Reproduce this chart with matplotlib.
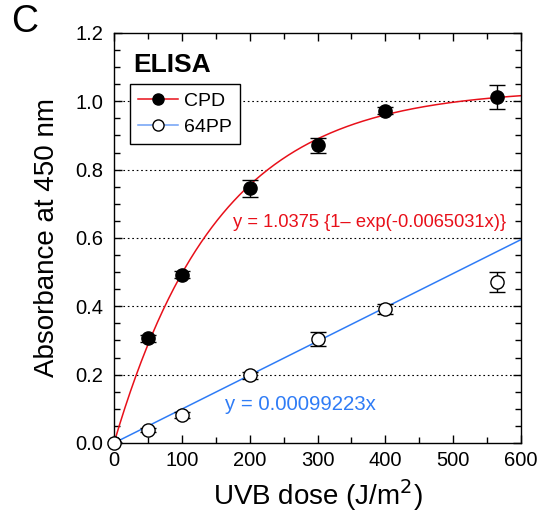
import numpy as np
import matplotlib
matplotlib.use("Agg")
import matplotlib.pyplot as plt
from matplotlib.ticker import MultipleLocator

plt.rcParams['font.family'] = ['Liberation Sans', 'DejaVu Sans']

# data
dose = [0, 50, 100, 200, 300, 400, 565]
cpd = [0.0, 0.307, 0.493, 0.746, 0.872, 0.972, 1.013]
cpd_err = [0.0, 0.010, 0.010, 0.025, 0.022, 0.010, 0.035]
pp64 = [0.0, 0.038, 0.082, 0.198, 0.304, 0.392, 0.471]
pp64_err = [0.0, 0.005, 0.008, 0.010, 0.020, 0.015, 0.030]

# fit params
cpd_a, cpd_k = 1.0375, 0.0065031
pp_slope = 0.00099223

fig = plt.figure(figsize=(5.49, 5.18), dpi=100)
ax = fig.add_axes([0.2077, 0.1448, 0.7413, 0.7915])

xf = np.linspace(0, 600, 300)
ax.plot(xf, cpd_a * (1 - np.exp(-cpd_k * xf)), color='#e8101a', lw=1.1, zorder=2)
ax.plot(xf, pp_slope * xf, color='#2f7cf6', lw=1.1, zorder=2)

ax.errorbar(dose, cpd, yerr=cpd_err, fmt='none', ecolor='black', elinewidth=1,
            capsize=5.5, capthick=1, zorder=3)
ax.errorbar(dose, pp64, yerr=pp64_err, fmt='none', ecolor='black', elinewidth=1,
            capsize=5.5, capthick=1, zorder=3)
ax.plot(dose, cpd, 'o', ms=9.5, mfc='black', mec='black', zorder=4)
ax.plot(dose, pp64, 'o', ms=9.5, mfc='white', mec='black', mew=1, zorder=4, clip_on=False)

for yv in [0.2, 0.4, 0.6, 0.8, 1.0]:
    ax.axhline(yv, color='black', ls=(0, (1.5, 2.5)), lw=0.8, zorder=1)

# legend handles
l1, = ax.plot([], [], '-o', color='#e8101a', mfc='black', mec='black', ms=8, lw=1.1)
l2, = ax.plot([], [], '-o', color='#6fa0f5', mfc='white', mec='black', ms=8, lw=1.1)
leg = ax.legend([l1, l2], ['CPD', '64PP'], loc='upper left', bbox_to_anchor=(0.039, 0.876),
                fontsize=14, fancybox=False, edgecolor='black', handlelength=2.07,
                borderpad=0.42, labelspacing=0.44, handletextpad=0.31, borderaxespad=0,
                framealpha=1)
leg.get_frame().set_linewidth(1)

ax.text(0.047, 0.905, 'ELISA', transform=ax.transAxes, fontsize=19, fontweight='bold', va='baseline')
ax.text(175, 0.632, 'y = 1.0375 {1\u2013 exp(-0.0065031x)}', color='#e8101a', fontsize=13.2, va='baseline')
ax.text(163, 0.0966, 'y = 0.00099223x', color='#2f7cf6', fontsize=14.7, va='baseline')

ax.set_xlim(0, 600)
ax.set_ylim(0, 1.2)
ax.xaxis.set_major_locator(MultipleLocator(100))
ax.xaxis.set_minor_locator(MultipleLocator(50))
ax.yaxis.set_major_locator(MultipleLocator(0.2))
ax.yaxis.set_minor_locator(MultipleLocator(0.05))
ax.yaxis.set_major_formatter(matplotlib.ticker.FormatStrFormatter('%.1f'))
ax.tick_params(which='both', direction='in', top=True, right=True, labelsize=14.5, width=1)
ax.tick_params(which='major', length=6)
ax.tick_params(which='minor', length=4)
ax.tick_params(axis='x', pad=6)
ax.tick_params(axis='y', pad=8)
for s in ax.spines.values():
    s.set_linewidth(1)

ax.set_xlabel('UVB dose (J/m$^2$)', fontsize=20, labelpad=5)
ax.set_ylabel('Absorbance at 450 nm', fontsize=20, labelpad=11)

fig.text(0.020, 0.938, 'C', fontsize=27, va='baseline')

fig.savefig('out.png', dpi=100)
